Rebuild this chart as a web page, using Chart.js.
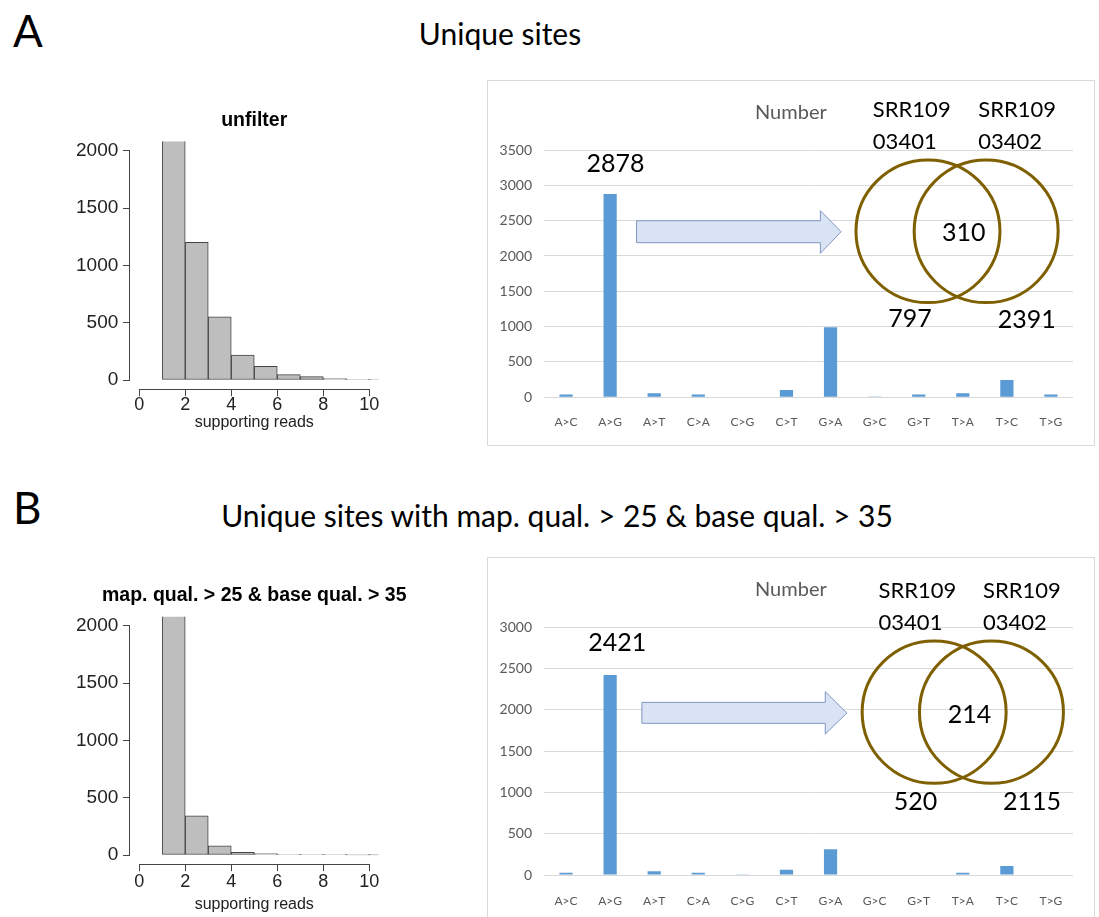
<!DOCTYPE html>
<html>
<head>
<meta charset="utf-8">
<script src="https://cdn.jsdelivr.net/npm/chart.js@4.4.1/dist/chart.umd.min.js"></script>
<style>
  html, body { margin: 0; padding: 0; background: #fff; overflow: hidden; }
  #page { position: relative; width: 1099px; height: 917px; overflow: hidden; font-family: Lato, sans-serif; }
  .label { position: absolute; line-height: 1; white-space: nowrap; color: #000; }
  .center { transform: translateX(-50%); }
  .box { position: absolute; border: 1px solid #d9d9d9; box-sizing: border-box; }
  canvas { position: absolute; }
</style>
</head>
<body>
<div id="page">
  <div class="label" style="left:13px;top:8px;font-size:44px;">A</div>
  <div class="label center" style="left:500px;top:18px;font-size:30px;">Unique sites</div>
  <div class="label" style="left:13px;top:485px;font-size:44px;">B</div>
  <div class="label center" style="left:557px;top:500px;font-size:30px;">Unique sites with map. qual. &gt; 25 &amp; base qual. &gt; 35</div>

  <div class="box" style="left:487px;top:80px;width:608px;height:366px;"></div>
  <div class="box" style="left:487px;top:557px;width:608px;height:380px;"></div>

  <canvas id="histA" style="left:0;top:90px" width="480" height="345"></canvas>
  <canvas id="histB" style="left:0;top:560px" width="480" height="357"></canvas>
  <canvas id="sitesA" style="left:488px;top:81px" width="606" height="364"></canvas>
  <canvas id="sitesB" style="left:488px;top:558px" width="606" height="359"></canvas>
</div>
<script>
// histogram of supporting reads (bins of width 1, first bin runs off the top)
const histBinMids = [1.5, 2.5, 3.5, 4.5, 5.5, 6.5, 7.5, 8.5, 9.5, 10.5];
const histUnfiltered = [2311, 1200, 552, 218, 119, 47, 29, 12, 6, 3];
const histFiltered = [2604, 342, 80, 23, 12, 6, 4, 3, 2, 1];
const histXTicks = [0, 2, 4, 6, 8, 10];
const histYTicks = [0, 500, 1000, 1500, 2000];

// mismatch types
const mutations = ["A>C", "A>G", "A>T", "C>A", "C>G", "C>T", "G>A", "G>C", "G>T", "T>A", "T>C", "T>G"];
const uniqueSites = [38, 2878, 57, 38, 8, 104, 991, 5, 38, 57, 245, 38];
const filteredSites = [26, 2421, 44, 26, 8, 65, 313, 5, 5, 26, 109, 5];

// venn: only first sample, shared, only second sample
const samples = ["SRR10903401", "SRR10903402"];
const vennUnique = [797, 310, 2391];
const vennFiltered = [520, 214, 2115];

const plain = (v) => String(v);

// R style axes + title for the histograms
const rAxes = {
  id: "rAxes",
  afterDraw(chart, args, opts) {
    const { ctx, chartArea, scales: { x, y } } = chart;
    ctx.save();
    ctx.strokeStyle = "#444";
    ctx.lineWidth = 1;
    ctx.beginPath();
    const yb = Math.round(x.top) + 0.5;
    ctx.moveTo(x.getPixelForValue(histXTicks[0]), yb);
    ctx.lineTo(x.getPixelForValue(histXTicks[histXTicks.length - 1]), yb);
    const xl = Math.round(y.right) - 0.5;
    ctx.moveTo(xl, y.getPixelForValue(histYTicks[0]));
    ctx.lineTo(xl, y.getPixelForValue(histYTicks[histYTicks.length - 1]));
    ctx.stroke();
    ctx.font = "bold 19.5px 'Liberation Sans'";
    ctx.fillStyle = "#000";
    ctx.textAlign = "center";
    ctx.textBaseline = "alphabetic";
    ctx.fillText(opts.title, (chartArea.left + chartArea.right) / 2, chartArea.top - 22.5 + 7);
    ctx.restore();
  },
};

function histChart(id, counts, title, lay) {
  return new Chart(document.getElementById(id), {
    type: "bar",
    data: {
      datasets: [{
        data: histBinMids.map((m, i) => ({ x: m, y: counts[i] })),
        backgroundColor: "#bebebe",
        borderColor: "#444",
        borderWidth: 1,
        borderSkipped: false,
        barPercentage: 1,
        categoryPercentage: 1,
      }],
    },
    options: {
      responsive: false,
      animation: false,
      layout: { padding: { top: lay.top, right: 101.5, left: 0, bottom: 0 } },
      plugins: { legend: { display: false }, tooltip: { enabled: false }, rAxes: { title } },
      scales: {
        x: {
          type: "linear", min: -0.4, max: 10.4, offset: false,
          afterBuildTicks: (s) => { s.ticks = histXTicks.map((v) => ({ value: v })); },
          grid: { offset: false, drawOnChartArea: false, tickLength: 7, color: "#444" },
          border: { display: false },
          ticks: { callback: plain, color: "#222", font: { family: "Liberation Sans", size: 18, lineHeight: 1 }, padding: lay.tickPad, maxRotation: 0, autoSkip: false },
          title: { display: true, text: "supporting reads", color: "#222", font: { family: "Liberation Sans", size: 16 }, padding: { top: 0, bottom: lay.titlePad } },
          afterFit: (s) => { s.height = lay.xHeight; },
        },
        y: {
          min: -80, max: 2080,
          afterBuildTicks: (s) => { s.ticks = histYTicks.map((v) => ({ value: v })); },
          grid: { drawOnChartArea: false, tickLength: 7, color: "#444" },
          border: { display: false },
          ticks: { callback: plain, color: "#222", font: { family: "Liberation Sans", size: 19 }, padding: 4.7 },
          afterFit: (s) => { s.width = 130; },
        },
      },
    },
    plugins: [rAxes],
  });
}

// arrow, venn circles and text over the excel style bar chart
const overlayPlugin = {
  id: "overlay",
  afterDraw(chart, args, o) {
    const { ctx, scales: { x, y } } = chart;
    const px = (v) => x.getPixelForValue(v);
    const py = (v) => y.getPixelForValue(v);
    ctx.save();
    // block arrow
    const a = o.arrow;
    ctx.beginPath();
    ctx.moveTo(px(a.x0), py(a.shaft[0]));
    ctx.lineTo(px(a.head), py(a.shaft[0]));
    ctx.lineTo(px(a.head), py(a.headSpan[0]));
    ctx.lineTo(px(a.x1), py(a.y));
    ctx.lineTo(px(a.head), py(a.headSpan[1]));
    ctx.lineTo(px(a.head), py(a.shaft[1]));
    ctx.lineTo(px(a.x0), py(a.shaft[1]));
    ctx.closePath();
    ctx.fillStyle = "#dae3f3";
    ctx.fill();
    ctx.strokeStyle = "#7f96c4";
    ctx.lineWidth = 1;
    ctx.stroke();
    // venn
    ctx.strokeStyle = "#7f6000";
    ctx.lineWidth = 3;
    o.circles.forEach((c) => {
      const rx = px(c.x + o.rx) - px(c.x);
      const ry = py(c.y) - py(c.y + o.ry);
      ctx.beginPath();
      ctx.ellipse(px(c.x), py(c.y), rx, ry, 0, 0, Math.PI * 2);
      ctx.stroke();
    });
    // texts (y is the visual middle of the digits/caps)
    o.texts.forEach((t) => {
      ctx.font = t.size + "px Lato";
      ctx.fillStyle = t.color || "#000";
      ctx.textAlign = t.align || "center";
      ctx.textBaseline = "alphabetic";
      ctx.fillText(t.text, px(t.x), py(t.y) + t.size * 0.36);
    });
    ctx.restore();
  },
};

function siteChart(id, values, yMax, overlay, lay) {
  return new Chart(document.getElementById(id), {
    type: "bar",
    data: {
      labels: mutations,
      datasets: [{ data: values, backgroundColor: "#5b9bd5", barPercentage: 0.3, categoryPercentage: 1 }],
    },
    options: {
      responsive: false,
      animation: false,
      layout: { padding: { top: lay.top, right: 21, left: 0, bottom: 0 } },
      plugins: { legend: { display: false }, tooltip: { enabled: false }, overlay },
      scales: {
        x: {
          grid: { display: false },
          border: { display: false },
          ticks: { color: "#595959", font: { family: "Lato", size: 12 }, padding: lay.labelPad, maxRotation: 0, autoSkip: false },
          afterFit: (s) => { s.height = lay.xHeight; },
        },
        y: {
          min: 0, max: yMax,
          ticks: { callback: plain, stepSize: 500, color: "#595959", font: { family: "Lato", size: 14 }, padding: 12 },
          grid: { color: "#d9d9d9", drawTicks: false },
          border: { display: false },
          afterFit: (s) => { s.width = 56; },
        },
      },
    },
    plugins: [overlayPlugin],
  });
}

function sampleTexts(xs, yTop, yBottom) {
  const out = [];
  samples.forEach((s, i) => {
    out.push({ text: s.slice(0, 6), x: xs[i], y: yTop, size: 22, align: "left" });
    out.push({ text: s.slice(6), x: xs[i], y: yBottom, size: 22, align: "left" });
  });
  return out;
}

histChart("histA", histUnfiltered, "unfilter", { top: 51.5, xHeight: 45.8, tickPad: 0, titlePad: 2.4 });
histChart("histB", histFiltered, "map. qual. > 25 & base qual. > 35", { top: 56.7, xHeight: 52.8, tickPad: 1.5, titlePad: 2.4 });

siteChart("sitesA", uniqueSites, 3500, {
  arrow: { x0: 1.60, x1: 6.24, head: 5.77, shaft: [2499, 2188], headSpan: [2641, 2038], y: 2344 },
  circles: [{ x: 8.21, y: 2349 }, { x: 9.53, y: 2349 }],
  rx: 1.633, ry: 1009,
  texts: [
    { text: "Number", x: 5.10, y: 4038, size: 20, color: "#595959" },
    ...sampleTexts([6.96, 9.35], 4080, 3627),
    { text: String(Math.max(...uniqueSites)), x: 1.12, y: 3316, size: 25 },
    { text: String(vennUnique[1]), x: 9.02, y: 2344, size: 25 },
    { text: String(vennUnique[0]), x: 7.80, y: 1118, size: 25 },
    { text: String(vennUnique[2]), x: 10.45, y: 1104, size: 25 },
  ],
}, { top: 69, xHeight: 47.7, labelPad: 9.5 });

siteChart("sitesB", filteredSites, 3000, {
  arrow: { x0: 1.72, x1: 6.37, head: 5.88, shaft: [2091, 1837], headSpan: [2220, 1707], y: 1962 },
  circles: [{ x: 8.35, y: 1972 }, { x: 9.65, y: 1972 }],
  rx: 1.633, ry: 862,
  texts: [
    { text: "Number", x: 5.10, y: 3464, size: 20, color: "#595959" },
    ...sampleTexts([7.09, 9.46], 3451, 3067),
    { text: String(Math.max(...filteredSites)), x: 1.16, y: 2825, size: 25 },
    { text: String(vennFiltered[1]), x: 9.15, y: 1950, size: 25 },
    { text: String(vennFiltered[0]), x: 7.93, y: 900, size: 25 },
    { text: String(vennFiltered[2]), x: 10.57, y: 900, size: 25 },
  ],
}, { top: 69.3, xHeight: 42, labelPad: 10.5 });
</script>
</body>
</html>
